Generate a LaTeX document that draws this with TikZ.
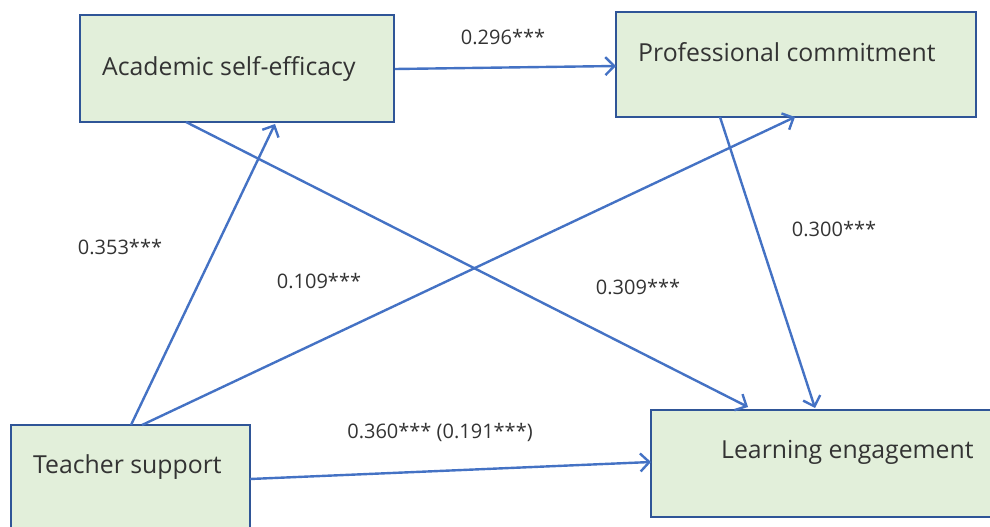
\documentclass[tikz,border=0pt]{standalone}
\usepackage{fontspec}
\setmainfont{Open Sans}
\usetikzlibrary{arrows.meta}
\definecolor{boxfill}{HTML}{E2EFDA}
\definecolor{boxline}{HTML}{2F5597}
\definecolor{arr}{HTML}{4472C4}
\definecolor{txt}{HTML}{333333}
\tikzset{
  box/.style={draw=boxline, line width=2.5pt, fill=boxfill},
  lbl/.style={text=txt, font=\fontsize{20}{24}\selectfont, inner sep=0pt},
  btxt/.style={text=txt, font=\fontsize{24.8}{29}\selectfont, inner sep=0pt, anchor=west},
  conn/.style={draw=arr, line width=2.4pt, -{Straight Barb[length=9pt,width=18pt,line width=2.4pt]}},
}
\begin{document}
\begin{tikzpicture}[x=1pt,y=-1pt]
\useasboundingbox (0,0) rectangle (990,527);
% boxes
\draw[box] (80,15) rectangle (394,122);
\draw[box] (616,12) rectangle (976,117);
\draw[box] (11,425) rectangle (250,540);
\draw[box] (651,410) rectangle (1000,517);
\node[btxt] (ase) at (102,69) {Academic self-efficacy};
\node[btxt] (pc) at (638,52) {Professional commitment};
\node[btxt] (ts) at (33,467) {Teacher support};
\node[btxt] (le) at (721,452) {Learning engagement};
% anchor coordinates
\coordinate (aseR) at (395,69);
\coordinate (pcL) at (616,66);
\coordinate (tsT1) at (131,425);
\coordinate (aseB1) at (275,124);
\coordinate (tsT2) at (142,425);
\coordinate (pcB1) at (795,117);
\coordinate (aseB2) at (186,122);
\coordinate (leT1) at (748,407);
\coordinate (pcB2) at (720,117);
\coordinate (leT2) at (815,408);
\coordinate (tsR) at (250,479);
\coordinate (leL) at (651,462);
\draw[conn] (aseR) -- (pcL);
\draw[conn] (tsT1) -- (aseB1);
\draw[conn] (tsT2) -- (pcB1);
\draw[conn] (aseB2) -- (leT1);
\draw[conn] (pcB2) -- (leT2);
\draw[conn] (tsR) -- (leL);
% labels
\node[lbl] (l1) at (503,37) {0.296***};
\node[lbl] (l2) at (120,247) {0.353***};
\node[lbl] (l3) at (319,281) {0.109***};
\node[lbl] (l4) at (638,287) {0.309***};
\node[lbl] (l5) at (834,229) {0.300***};
\node[lbl] (l6) at (440,432) {0.360*** (0.191***)};
\end{tikzpicture}
\end{document}
